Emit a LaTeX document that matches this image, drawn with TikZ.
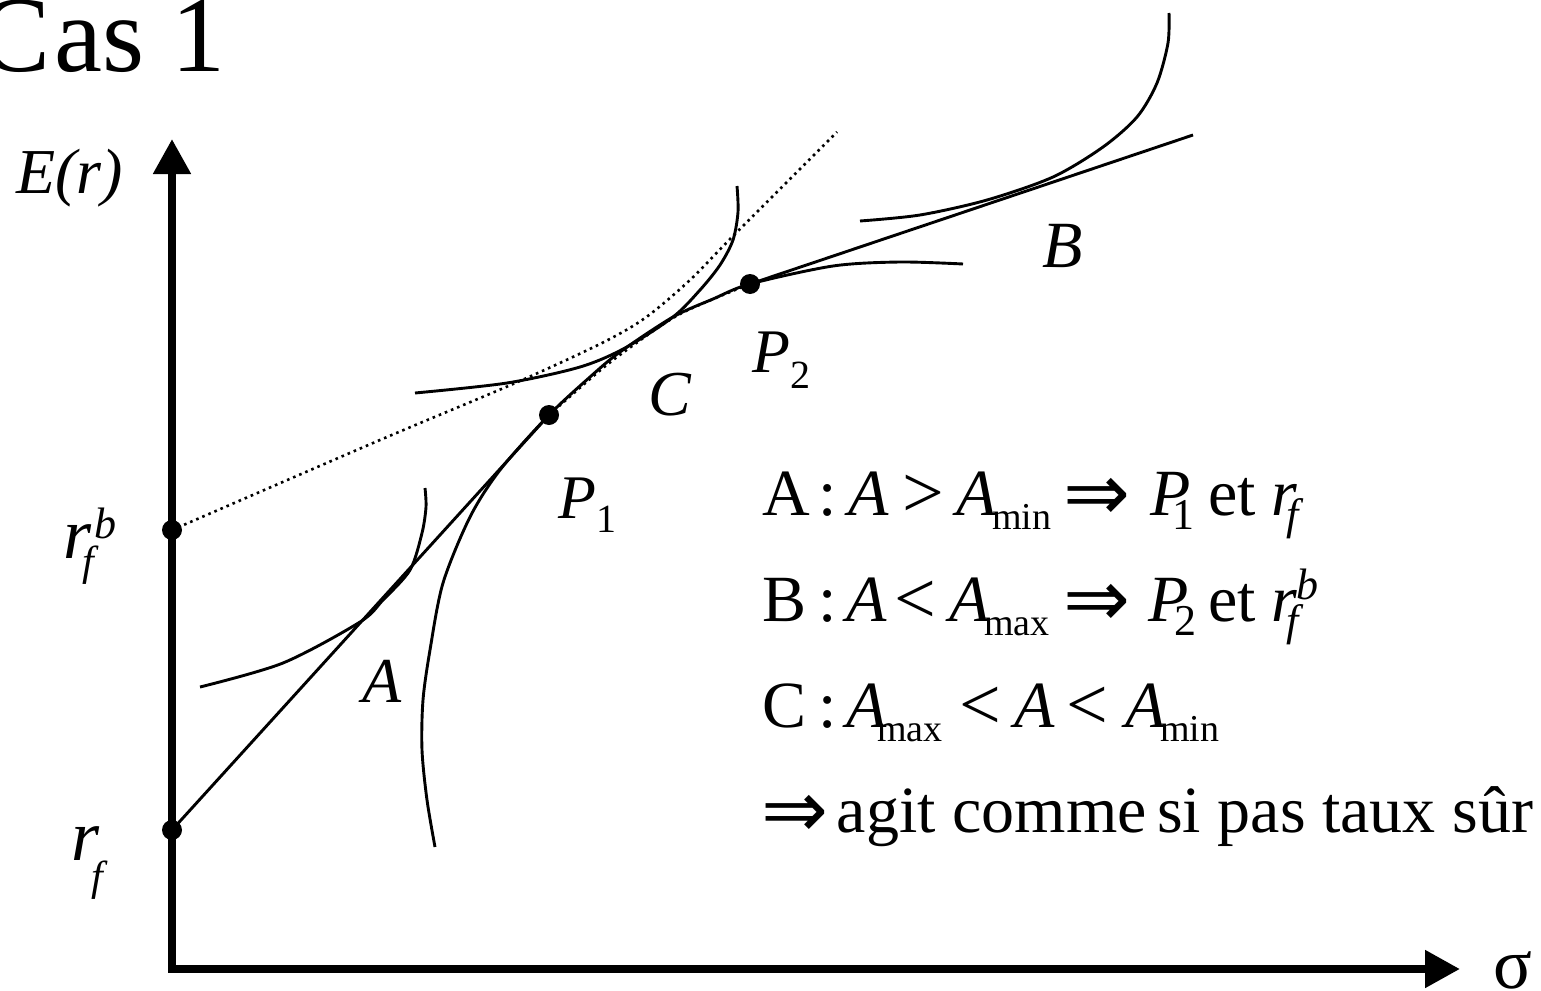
\documentclass[tikz,border=0pt]{standalone}
\usepackage{fontspec}
\setmainfont{Liberation Serif}
\newfontfamily\arrfont{DejaVu Sans}
\usetikzlibrary{arrows.meta}
\newlength{\pxu}\setlength{\pxu}{0.5pt}
\newcommand{\myfs}[1]{\fontsize{#1}{#1}\selectfont}
\newcommand{\tk}[2]{\rlap{\hspace*{#1\pxu}#2}}
\newcommand{\lowr}[3]{\raisebox{-#1\pxu}{\myfs{#2}#3}}
\newcommand{\highr}[3]{\raisebox{#1\pxu}{\myfs{#2}#3}}
\newcommand{\impl}{\raisebox{-5\pxu}{\myfs{40}\arrfont ⇒}}
\newcommand{\rel}[1]{\raisebox{-2\pxu}{\myfs{37}#1}}
\begin{document}
\begin{tikzpicture}[x=0.5pt,y=-0.5pt,line join=round]
\tikzset{
  crv/.style={line width=1.45pt},
  dotc/.style={line width=1.3pt, dash pattern=on 1.3pt off 2pt},
  axisline/.style={line width=4pt, -{Triangle[length=17.5pt,width=18pt]}},
  bigdot/.style={circle, fill=black, inner sep=0pt, minimum size=10pt},
  lbl/.style={inner sep=0pt, anchor=base west, font=\myfs{32}\itshape},
  leg/.style={inner sep=0pt, anchor=base west, font=\myfs{33}},
}
\useasboundingbox (0,0) rectangle (1541,990);

% title
\node[inner sep=0pt, anchor=base west, font=\myfs{54}] (title) at (-22,72) {C\kern2pt as 1};

% axes
\coordinate (O) at (172,969);
\coordinate (ytip) at (172,139);
\coordinate (xtip) at (1460,969);
\coordinate (Ostart) at (168,969);
\draw[axisline] (O) -- (ytip);
\draw[axisline] (Ostart) -- (xtip);

% points
\node[bigdot] (rf) at (172,830) {};
\node[bigdot] (rfb) at (172,530) {};
\node[bigdot] (P1) at (549,415) {};
\node[bigdot] (P2) at (750,284) {};
\coordinate (Bend) at (1193,135);

% dotted curves
\draw[dotc] plot[smooth] coordinates {(172,530) (380,440) (513,384) (600,344) (645,318) (690,280) (735,234) (837,132)};
\draw[dotc] plot[smooth] coordinates {(549,415) (597,373) (628,349) (680,314) (750,284)};

% straight lines
\draw[crv] (rf.center) -- (P1.center);
\draw[crv] (P2.center) -- (Bend);

% frontier
\draw[crv] plot[smooth] coordinates {(435,847) (427,800) (422,750) (423,700) (430,650) (443,583) (470,517) (500,470) (549,415) (590,377) (620,352) (673,317) (713,299) (750,284) (833,266) (900,262) (963,264)};

% indifference curves
\draw[crv] plot[smooth] coordinates {(200,687) (283,663) (360,622) (383,600) (410,570) (422,533) (426,507) (425,488)};
\draw[crv] plot[smooth] coordinates {(415,393) (507,383) (580,367) (625,348) (673,317) (700,290) (720,265) (733,240) (738,212) (737,186)};
\draw[crv] plot[smooth] coordinates {(860,221) (920,215) (987,200) (1053,177) (1103,147) (1137,117) (1157,83) (1168,43) (1169,13)};

% axis labels
\node[lbl] (Er) at (16,193) {E(r)};
\node[inner sep=0pt, anchor=base west, font=\myfs{36}] (sigma) at (1493,988) {σ};
\node[lbl, font=\myfs{36}\itshape] (rfbr) at (63,558) {r};
\node[lbl, font=\myfs{21}\itshape] (rfbf) at (82,575) {f};
\node[lbl, font=\myfs{22}\itshape] (rfbb) at (94,538) {b};
\node[lbl, font=\myfs{36}\itshape] (rfr) at (71,860) {r};
\node[lbl, font=\myfs{21}\itshape] (rff) at (91,890) {f};

% graph labels
\node[lbl] (labA) at (362,702) {A};
\node[lbl, font=\myfs{33}\itshape] (labB) at (1042,267) {B};
\node[lbl] (labC) at (648,415) {C};
\node[lbl, font=\myfs{31}\itshape] (labP1) at (558,518) {P\lowr{14}{20}{\upshape 1}};
\node[lbl, font=\myfs{31}\itshape] (labP2) at (752,372) {P\lowr{16}{20}{\upshape 2}};

% legend
\node[leg] (leg1) at (761,515) {\tk{0}{A}\tk{56}{:}\tk{86}{\textit{A}}\tk{140}{\rel{>}}\tk{194}{\textit{A}}\tk{230}{\lowr{14}{19}{min}}\tk{301}{\impl}\tk{388}{\textit{P}}\tk{410}{\lowr{14}{22}{1}}\tk{446}{et}\tk{509}{\textit{r}}\tk{524}{\lowr{14}{22}{\textit{f}}}};
\node[leg] (leg2) at (761,621) {\tk{0}{B}\tk{56}{:}\tk{84}{\textit{A}}\tk{132}{\rel{<}}\tk{187}{\textit{A}}\tk{222}{\lowr{14}{19}{max}}\tk{301}{\impl}\tk{386}{\textit{P}}\tk{412}{\lowr{14}{22}{2}}\tk{446}{et}\tk{509}{\textit{r}}\tk{524}{\lowr{14}{22}{\textit{f}}}\tk{534}{\highr{22}{22}{\textit{b}}}};
\node[leg] (leg3) at (761,727) {\tk{0}{C}\tk{56}{:}\tk{84}{\textit{A}}\tk{115}{\lowr{14}{19}{max}}\tk{197}{\rel{<}}\tk{252}{\textit{A}}\tk{304}{\rel{<}}\tk{363}{\textit{A}}\tk{398}{\lowr{14}{19}{min}}};
\node[leg] (leg4) at (761,832) {\impl\hspace*{-8\pxu}\ agit comme\kern-3pt\ si pas taux sûr};
\end{tikzpicture}
\end{document}
